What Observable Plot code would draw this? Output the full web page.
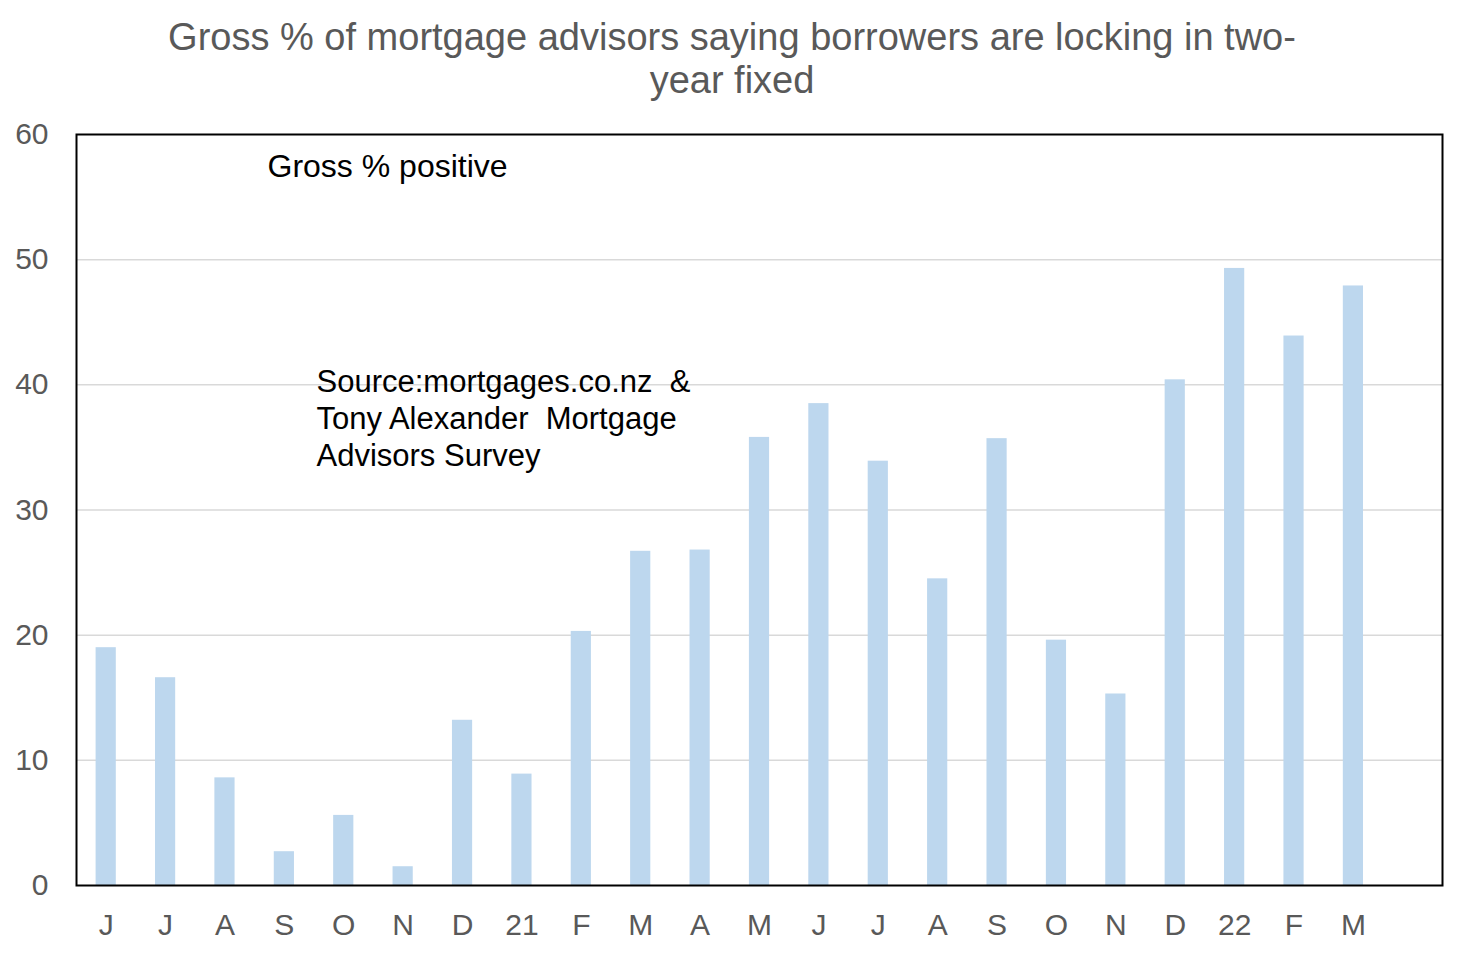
<!DOCTYPE html>
<html>
<head>
<meta charset="utf-8">
<script src="https://cdn.jsdelivr.net/npm/d3@7"></script>
<script src="https://cdn.jsdelivr.net/npm/@observablehq/plot@0.6"></script>
<style>
  html, body { margin: 0; padding: 0; background: #fff; }
  #title {
    width: 1464px; height: 110px; box-sizing: border-box; padding-top: 16px;
    text-align: center; font-family: "Liberation Sans", Arial, sans-serif;
    font-size: 38px; line-height: 43px; color: #595959;
  }
  #title .inner { width: 1300px; margin: 0 auto; }
</style>
</head>
<body>
<div id="title"><div class="inner">Gross % of mortgage advisors saying borrowers are locking in two-<br>year fixed</div></div>
<div id="chart"></div>
<script>
const months = ["2020-06","2020-07","2020-08","2020-09","2020-10","2020-11","2020-12",
  "2021-01","2021-02","2021-03","2021-04","2021-05","2021-06","2021-07","2021-08",
  "2021-09","2021-10","2021-11","2021-12","2022-01","2022-02","2022-03"];
const tickLabels = ["J","J","A","S","O","N","D","21","F","M","A","M","J","J","A","S","O","N","D","22","F","M"];
const values = [19.0,16.6,8.6,2.7,5.6,1.5,13.2,8.9,20.3,26.7,26.8,35.8,38.5,33.9,24.5,35.7,19.6,15.3,40.4,49.3,43.9,47.9];
const spacer = "2022-04";
const yTicks = [0,10,20,30,40,50,60];

const data = months.map((m, i) => ({month: m, value: values[i]}));
const labelOf = new Map(months.map((m, i) => [m, tickLabels[i]]));
labelOf.set(spacer, "");

const font = "'Liberation Sans', Arial, sans-serif";

const chart = Plot.plot({
  width: 1464,
  height: 844,
  marginTop: 24,
  marginBottom: 69,
  marginLeft: 76,
  marginRight: 22,
  style: {fontFamily: font, fontSize: "30px", color: "#595959", background: "#fff"},
  x: {domain: [...months, spacer], paddingInner: 0.66, paddingOuter: 0.33, round: false, label: null,
      tickSize: 0, tickPadding: 28, tickFormat: d => labelOf.get(d)},
  y: {domain: [0, 60], ticks: yTicks, label: null, tickSize: 0, tickPadding: 28},
  marks: [
    Plot.gridY(yTicks.filter(t => t > 0 && t < 60), {stroke: "#d9d9d9", strokeOpacity: 1, strokeWidth: 1.5}),
    Plot.barY(data, {x: "month", y: "value", fill: "#bdd7ee"}),
    Plot.frame({stroke: "#000", strokeWidth: 2}),
    Plot.text(["Gross % positive"], {frameAnchor: "top-left", dx: 191, dy: 32, lineAnchor: "middle",
      textAnchor: "start", fill: "#000", fontSize: 32, fontFamily: font}),
    Plot.text(["Source:mortgages.co.nz  &\nTony Alexander  Mortgage\nAdvisors Survey"], {frameAnchor: "top-left",
      dx: 240, dy: 283, lineAnchor: "middle", textAnchor: "start", lineHeight: 1.19,
      fill: "#000", fontSize: 31, fontFamily: font})
  ]
});
document.getElementById("chart").appendChild(chart);
</script>
</body>
</html>
